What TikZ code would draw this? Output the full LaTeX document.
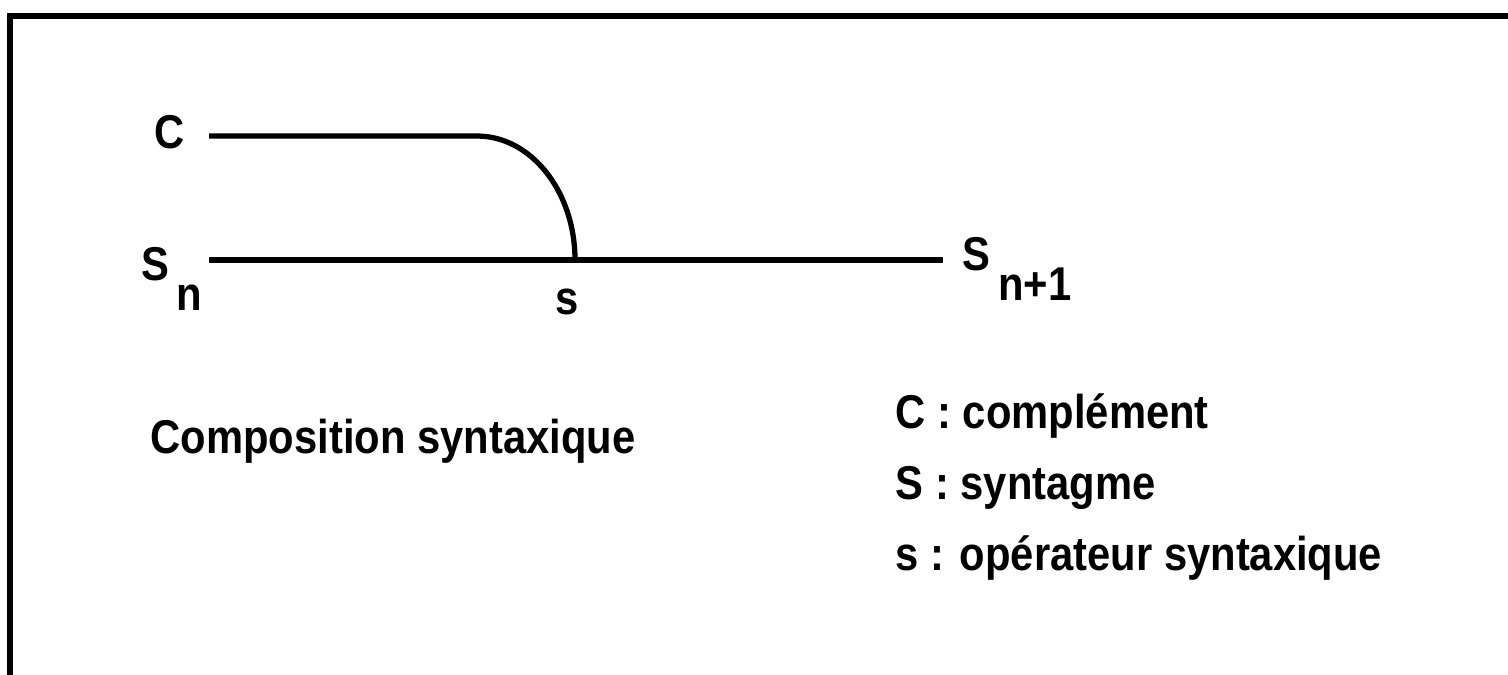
\documentclass[tikz,border=0pt]{standalone}
\usepackage{fontspec}
\setmainfont{Liberation Sans}[FakeStretch=0.88]
\usetikzlibrary{positioning}
\tikzset{
  lbl/.style={inner sep=0pt, font=\fontsize{13.5}{16}\selectfont\bfseries},
  leg/.style={inner sep=0pt, anchor=base west, font=\fontsize{13.5}{16}\selectfont\bfseries},
  trait/.style={line width=1.5pt},
  cadre/.style={line width=1.5pt},
}
\newcommand{\indbas}[1]{\smash{\raisebox{-0.30cm}{#1}}}

\begin{document}
\begin{tikzpicture}
  \useasboundingbox[fill=white] (0,0) rectangle (15.08,-6.74);

  % ── cadre ──────────────────────────────────────────────────────────────
  \draw[cadre] (0.10,-6.80) -- (0.10,-0.16) -- (15.20,-0.16);

  % ── points ─────────────────────────────────────────────────────────────
  \coordinate (cdeb)  at (2.09,-1.36);
  \coordinate (coude) at (4.77,-1.36);
  \coordinate (sdeb)  at (2.09,-2.60);
  \coordinate (op)    at (5.75,-2.60);
  \coordinate (sfin)  at (9.43,-2.60);

  % ── nodes ──────────────────────────────────────────────────────────────
  \node[lbl, left=0.24cm of cdeb, yshift=0.04cm]  (cmp) {C};
  \node[lbl, left=0.06cm of sdeb, yshift=-0.04cm] (sn)  {S\,\indbas{n}};
  \node[lbl, below=0.28cm of op, xshift=-0.08cm]  (opl) {s};
  \node[lbl, right=0.19cm of sfin, yshift=0.06cm] (sn1) {S\,\indbas{n+1}};

  \node[leg] (titre) at (1.50,-4.53) {Composition syntaxique};
  \node[leg] (lgC) at (8.95,-4.28) {C : complément};
  \node[leg, below=0.71cm of lgC.base west, anchor=base west] (lgS) {S : syntagme};
  \node[leg, below=0.71cm of lgS.base west, anchor=base west] (lgs) {s : opérateur syntaxique};

  % ── edges ──────────────────────────────────────────────────────────────
  \draw[trait] (cdeb) -- (coude) arc[start angle=90, end angle=0, x radius=0.98, y radius=1.24];
  \draw[trait] (sdeb) -- (sfin);

\end{tikzpicture}
\end{document}
